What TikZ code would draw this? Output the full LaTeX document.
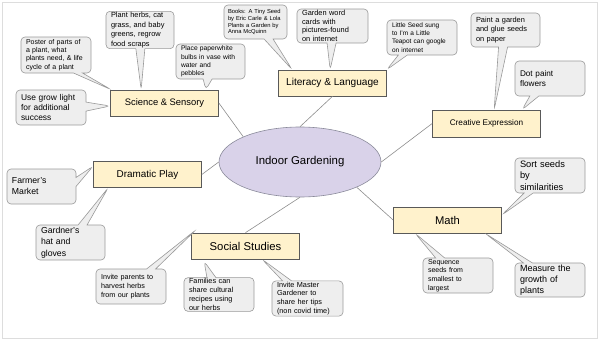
\documentclass[tikz,border=0pt]{standalone}
\usepackage{fontspec}
\setmainfont{Liberation Sans}
\usetikzlibrary{shapes.geometric,shapes.callouts}
\definecolor{boxfill}{HTML}{FFF2CC}
\definecolor{boxline}{HTML}{595959}
\definecolor{calfill}{HTML}{EEEEEE}
\definecolor{calline}{HTML}{999999}
\definecolor{ellfill}{HTML}{D9D2E9}
\definecolor{ellline}{HTML}{8A8A9A}
\definecolor{linkc}{HTML}{8C8C8C}
\definecolor{framec}{HTML}{DDDDDD}
\newcommand{\fs}[2]{\fontsize{#1}{#2}\selectfont}
\begin{document}
\begin{tikzpicture}[x=1pt,y=-1pt,
  topic/.style={draw=boxline, fill=boxfill, line width=0.7pt, minimum width=108pt, minimum height=26pt, inner sep=0pt},
  idea/.style={rectangle callout, rounded corners=4pt, draw=calline, fill=calfill, line width=0.6pt,
    minimum width=70pt, minimum height=35pt, inner xsep=5pt, inner ysep=1pt, text width=60pt,
    align=left, callout pointer width=9pt},
  link/.style={draw=linkc, line width=0.6pt}]
\useasboundingbox (0,0) rectangle (600,340);
\draw[framec, line width=0.8pt] (2,2) rectangle (597,338);

% central
\node[ellipse, draw=ellline, fill=ellfill, line width=0.6pt, minimum width=162pt, minimum height=70pt, inner sep=0pt, font=\fs{11.4}{13}] (ig) at (300,162) {Indoor Gardening};

% topics
\node[topic, font=\fs{9.4}{11}] (sci) at (164.5,103) {Science \& Sensory};
\node[topic, font=\fs{10.1}{12}] (lit) at (332.5,83) {Literacy \& Language};
\node[topic, font=\fs{8.2}{10}, minimum height=27pt] (cre) at (486.5,123.5) {Creative Expression};
\node[topic, font=\fs{9.9}{12}] (dra) at (147.5,174.5) {Dramatic Play};
\node[topic, font=\fs{11.3}{13}] (soc) at (245.5,246) {Social Studies};
\node[topic, font=\fs{11.2}{13}] (mat) at (447.5,220) {Math};

% links
\draw[link] (sci.east) -- (ig.156);
\draw[link] (lit.south) -- (ig.north);
\draw[link] (cre.west) -- (ig.east);
\draw[link] (dra.east) -- (ig.west);
\draw[link] (soc.north) -- (ig.south);
\draw[link] (mat.west) -- (ig.336);

% callouts: science
\node[idea, font=\fs{7}{8.3}, minimum height=36pt, callout absolute pointer={([xshift=1pt]sci.north west)}] (c1) at (56,55)
  {Poster of parts of\\a plant, what\\plants need, \& life\\cycle of a plant};
\node[idea, font=\fs{7.4}{9.5}, minimum width=68pt, text width=58pt, minimum height=34pt, callout absolute pointer={([xshift=31pt]sci.north west)}] (c2) at (140,30)
  {Plant herbs, cat\\grass, and baby\\greens, regrow\\food scraps};
\node[idea, font=\fs{8.4}{9.7}, callout absolute pointer={([yshift=-3pt]sci.west)}] (c3) at (51,107.5)
  {Use grow light\\for additional\\success};
\node[idea, font=\fs{6.7}{8.3}, minimum width=69pt, text width=59pt, callout absolute pointer={([xshift=-13pt]sci.north east)}] (c4) at (210.5,61.5)
  {Place paperwhite\\bulbs in vase with\\water and\\pebbles};

% literacy
\node[idea, font=\fs{5.8}{6.9}, minimum width=63pt, text width=55pt, inner xsep=4pt, minimum height=34pt, callout absolute pointer={([xshift=14pt]lit.north west)}] (c5) at (255.5,22)
  {Books: A Tiny Seed\\by Eric Carle \& Lola\\Plants a Garden by\\Anna McQuinn};
\node[idea, font=\fs{7.4}{8.7}, minimum width=71pt, text width=61pt, minimum height=34pt, callout absolute pointer={([xshift=52pt]lit.north west)}] (c6) at (332.5,26)
  {Garden word\\cards with\\pictures-found\\on internet};
\node[idea, font=\fs{6.5}{8.3}, callout absolute pointer={(lit.north east)}] (c7) at (422,37.5)
  {Little Seed sung\\to I'm a Little\\Teapot can google\\on internet};

% creative
\node[idea, font=\fs{7.4}{9.3}, minimum width=69pt, text width=59pt, minimum height=34pt, callout absolute pointer={([xshift=62pt]cre.north west)}] (c8) at (505.5,30)
  {Paint a garden\\and glue seeds\\on paper};
\node[idea, font=\fs{8.2}{9.3}, callout absolute pointer={([xshift=90pt]cre.north west)}] (c9) at (550,78.5)
  {Dot paint\\flowers};

% dramatic
\node[idea, font=\fs{8.7}{11}, minimum width=69pt, text width=59pt, callout absolute pointer={([yshift=-5pt]dra.north west)}] (c10) at (41.5,186.5)
  {Farmer's\\Market};
\node[idea, font=\fs{8.7}{11.3}, minimum width=69pt, text width=59pt, callout absolute pointer={([xshift=15pt]dra.south west)}] (c11) at (70.5,242.5)
  {Gardner's\\hat and\\gloves};

% social
\node[idea, font=\fs{7.2}{8.7}, callout absolute pointer={([xshift=5pt,yshift=3pt]soc.north west)}] (c12) at (131,286.5)
  {Invite parents to\\harvest herbs\\from our plants};
\node[idea, font=\fs{7.3}{8.8}, minimum height=33pt, callout absolute pointer={([xshift=13pt,yshift=-2pt]soc.south west)}] (c13) at (219,294.5)
  {Families can\\share cultural\\recipes using\\our herbs};
\node[idea, font=\fs{7.3}{8.8}, minimum width=71pt, text width=61pt, callout absolute pointer={([xshift=71pt]soc.south west)}] (c14) at (307.5,298.5)
  {Invite Master\\Gardener to\\share her tips\\(non covid time)};

% math
\node[idea, font=\fs{9.3}{11.7}, callout absolute pointer={([yshift=5pt]mat.east)}] (c15) at (550,175.5)
  {Sort seeds\\by\\similarities};
\node[idea, font=\fs{7}{8.8}, callout absolute pointer={([xshift=22pt]mat.south west)}] (c16) at (458,275.5)
  {Sequence\\seeds from\\smallest to\\largest};
\node[idea, font=\fs{9}{11}, minimum height=34pt, callout absolute pointer={([xshift=92pt]mat.south west)}] (c17) at (550,280)
  {Measure the\\growth of\\plants};
\end{tikzpicture}
\end{document}
